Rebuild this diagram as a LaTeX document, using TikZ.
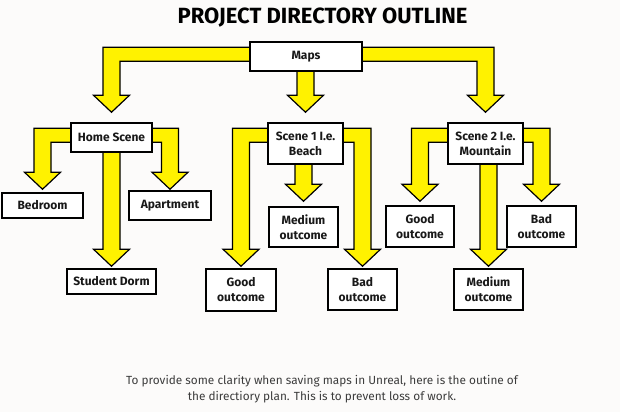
\documentclass[tikz,border=0pt]{standalone}
\usepackage{fontspec}
\setmainfont{Fira Sans}
\usepackage{xcolor}
\usepackage{tikz}
\usetikzlibrary{calc}

\definecolor{arrowyellow}{RGB}{255,242,0}
\definecolor{pagebg}{RGB}{252,251,250}
\definecolor{captiongray}{RGB}{60,60,60}

\pgfdeclarelayer{paper}
\pgfdeclarelayer{arrows}
\pgfsetlayers{paper,arrows,main}

% fat arrow leaving the side of #1 and turning down onto #2
% #3: 1 = to the right, -1 = to the left, #4: gap above #2
\newcommand{\bendarrow}[4]{%
    \filldraw[bigarrow] let \p1 = (#1.north), \p2 = (#2.north) in
        (\x1, {\y1-6pt}) -- ({\x2+(#3)*8.5pt}, {\y1-6pt})
        -- ({\x2+(#3)*8.5pt}, {\y2+#4+17pt}) -- ({\x2+(#3)*18pt}, {\y2+#4+17pt})
        -- (\x2, {\y2+#4})
        -- ({\x2-(#3)*18pt}, {\y2+#4+17pt}) -- ({\x2-(#3)*8.5pt}, {\y2+#4+17pt})
        -- ({\x2-(#3)*8.5pt}, {\y1-20pt}) -- (\x1, {\y1-20pt}) -- cycle;}

% fat arrow going straight down from #1 onto #2, #3: gap above #2
\newcommand{\droparrow}[3]{%
    \filldraw[bigarrow] let \p1 = (#1.south), \p2 = (#2.north) in
        ({\x2-8.5pt}, {\y1+4pt}) -- ({\x2-8.5pt}, {\y2+#3+17pt})
        -- ({\x2-18pt}, {\y2+#3+17pt}) -- (\x2, {\y2+#3})
        -- ({\x2+18pt}, {\y2+#3+17pt}) -- ({\x2+8.5pt}, {\y2+#3+17pt})
        -- ({\x2+8.5pt}, {\y1+4pt}) -- cycle;}

\begin{document}
\begin{tikzpicture}[x=1pt, y=-1pt,
        box/.style = {draw = black, fill = white, line width = 1.5pt, inner sep = 0pt,
                      align = center, text = black!90,
                      font = \fontsize{12}{15}\selectfont\bfseries},
        bigarrow/.style = {draw = black, fill = arrowyellow, line width = 1.2pt,
                           line join = miter}]

    \begin{pgfonlayer}{paper}
        \fill[pagebg] (0, 0) rectangle (620, 412);
    \end{pgfonlayer}

    \node[font = \fontsize{22}{26}\selectfont\bfseries] (title) at (322.5, 17.5) {PROJECT DIRECTORY OUTLINE};

    % top level
    \node[box, minimum width = 112, minimum height = 29] (maps) at (306, 56.5) {Maps};

    % scenes
    \node[box, minimum width = 81, minimum height = 29] (home) at (111.5, 137.5) {Home Scene};
    \node[box, minimum width = 75, minimum height = 41] (scene1) at (305.5, 143.5) {Scene 1 I.e.\\Beach};
    \node[box, minimum width = 75, minimum height = 41] (scene2) at (485.5, 143.5) {Scene 2 I.e.\\Mountain};

    % home scene
    \node[box, minimum width = 81, minimum height = 25] (bedroom) at (42.5, 205.5) {Bedroom};
    \node[box, minimum width = 82, minimum height = 29] (apartment) at (170, 205.5) {Apartment};
    \node[box, minimum width = 89, minimum height = 25] (dorm) at (111.5, 281.5) {Student Dorm};

    % scene 1
    \node[box, minimum width = 70, minimum height = 42] (good1) at (241, 290) {Good\\outcome};
    \node[box, minimum width = 69, minimum height = 40] (medium1) at (303.5, 227) {Medium\\outcome};
    \node[box, minimum width = 69, minimum height = 41] (bad1) at (362.5, 289.5) {Bad\\outcome};

    % scene 2
    \node[box, minimum width = 68, minimum height = 41] (good2) at (420, 226.5) {Good\\outcome};
    \node[box, minimum width = 69, minimum height = 41] (medium2) at (488.5, 289.5) {Medium\\outcome};
    \node[box, minimum width = 69, minimum height = 41] (bad2) at (541.5, 226.5) {Bad\\outcome};

    \begin{pgfonlayer}{arrows}
        \bendarrow{maps}{home}{-1}{10pt}
        \droparrow{maps}{scene1}{10pt}
        \bendarrow{maps}{scene2}{1}{10pt}

        \bendarrow{home}{bedroom}{-1}{3pt}
        \droparrow{home}{dorm}{2pt}
        \bendarrow{home}{apartment}{1}{1pt}

        \bendarrow{scene1}{good1}{-1}{2pt}
        \droparrow{scene1}{medium1}{5pt}
        \bendarrow{scene1}{bad1}{1}{2pt}

        \bendarrow{scene2}{good2}{-1}{4pt}
        \droparrow{scene2}{medium2}{2pt}
        \bendarrow{scene2}{bad2}{1}{4pt}
    \end{pgfonlayer}

    \node[align = center, text = captiongray, font = \fontsize{11.8}{16}\selectfont] (caption) at (322, 389)
        {To provide some clarity when saving maps in Unreal, here is the outine of\\
         the directiory plan. This is to prevent loss of work.};
\end{tikzpicture}
\end{document}
